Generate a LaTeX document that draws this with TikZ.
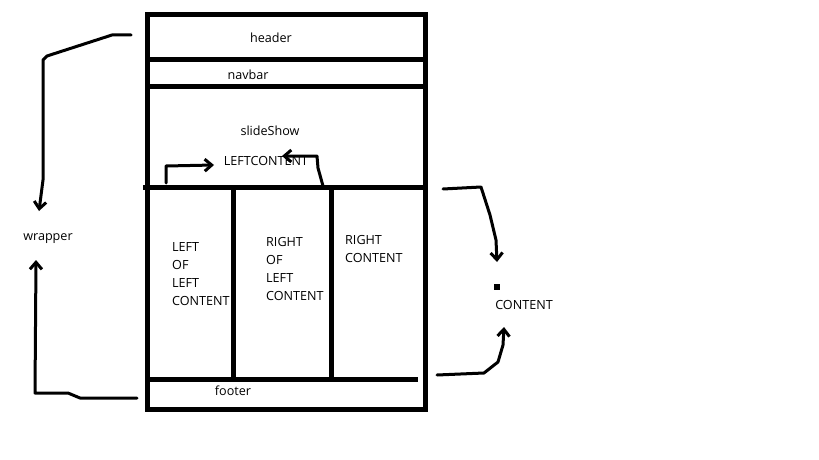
\documentclass[tikz,border=0pt]{standalone}
\usepackage{fontspec}
\setmainfont{Open Sans}
\usetikzlibrary{arrows.meta}
\begin{document}
\begin{tikzpicture}[x=1pt,y=-1pt,
  boxline/.style={line width=5pt},
  lbl/.style={font=\fontsize{12.6}{17.8}\selectfont, inner sep=0pt, yshift=-2.5pt},
  hand/.style={line width=3pt, line cap=round, line join=round,
    -{Straight Barb[length=7pt,width=12pt,line width=3pt]}}]
\useasboundingbox (0,0) rectangle (819,460);
% frame and divisions
\draw[boxline] (147,15) rectangle (425,409);
\draw[boxline] (147,60) -- (425,60);
\draw[boxline] (147,86) -- (428,86);
\draw[boxline] (143,187) -- (428,187);
\draw[boxline] (233,187) -- (233,379);
\draw[boxline] (331,187) -- (331,379);
\draw[boxline] (147,379) -- (418,379);
% labels
\node[lbl] (header) at (271,35) {header};
\node[lbl] (navbar) at (248,72) {navbar};
\node[lbl] (slide) at (270,128) {slideShow};
\node[lbl] (leftc) at (266,158) {LEFTCONTENT};
\node[lbl] (wrapper) at (48,236) {wrapper};
\node[lbl, anchor=north west, align=left] (lol) at (172,240) {LEFT\\OF\\LEFT\\CONTENT};
\node[lbl, anchor=north west, align=left] (rol) at (266,235) {RIGHT\\OF\\LEFT\\CONTENT};
\node[lbl, anchor=north west, align=left] (rc) at (345,233) {RIGHT\\CONTENT};
\node[lbl] (content) at (524,302) {CONTENT};
\node[fill, minimum size=6pt, inner sep=0pt] (sq) at (497,287) {};
\node[lbl] (footer) at (233,388) {footer};
% connector end points
\coordinate (tl0) at (131,35);
\coordinate (tl1) at (39,211);
\coordinate (bl0) at (137,398);
\coordinate (bl1) at (36,260);
\coordinate (tr0) at (443,189);
\coordinate (tr1) at (497,262);
\coordinate (br0) at (437,375);
\coordinate (br1) at (504,327);
\coordinate (sr0) at (166,183);
\coordinate (sr1) at (214,165);
\coordinate (sl0) at (323,186);
\coordinate (sl1) at (282,156);
% connectors
\draw[hand] (tl0) -- (112,35) -- (47,56) -- (43,60) -- (43,180) -- (tl1);
\draw[hand] (bl0) -- (80,398) -- (68,393) -- (35,393) -- (bl1);
\draw[hand] (tr0) -- (481,187) -- (490,215) -- (496,240) -- (tr1);
\draw[hand] (br0) -- (484,373) -- (498,362) -- (503,345) -- (br1);
\draw[hand] (sr0) -- (166,166) -- (sr1);
\draw[hand] (sl0) -- (318,168) -- (317,156) -- (sl1);
\end{tikzpicture}
\end{document}
